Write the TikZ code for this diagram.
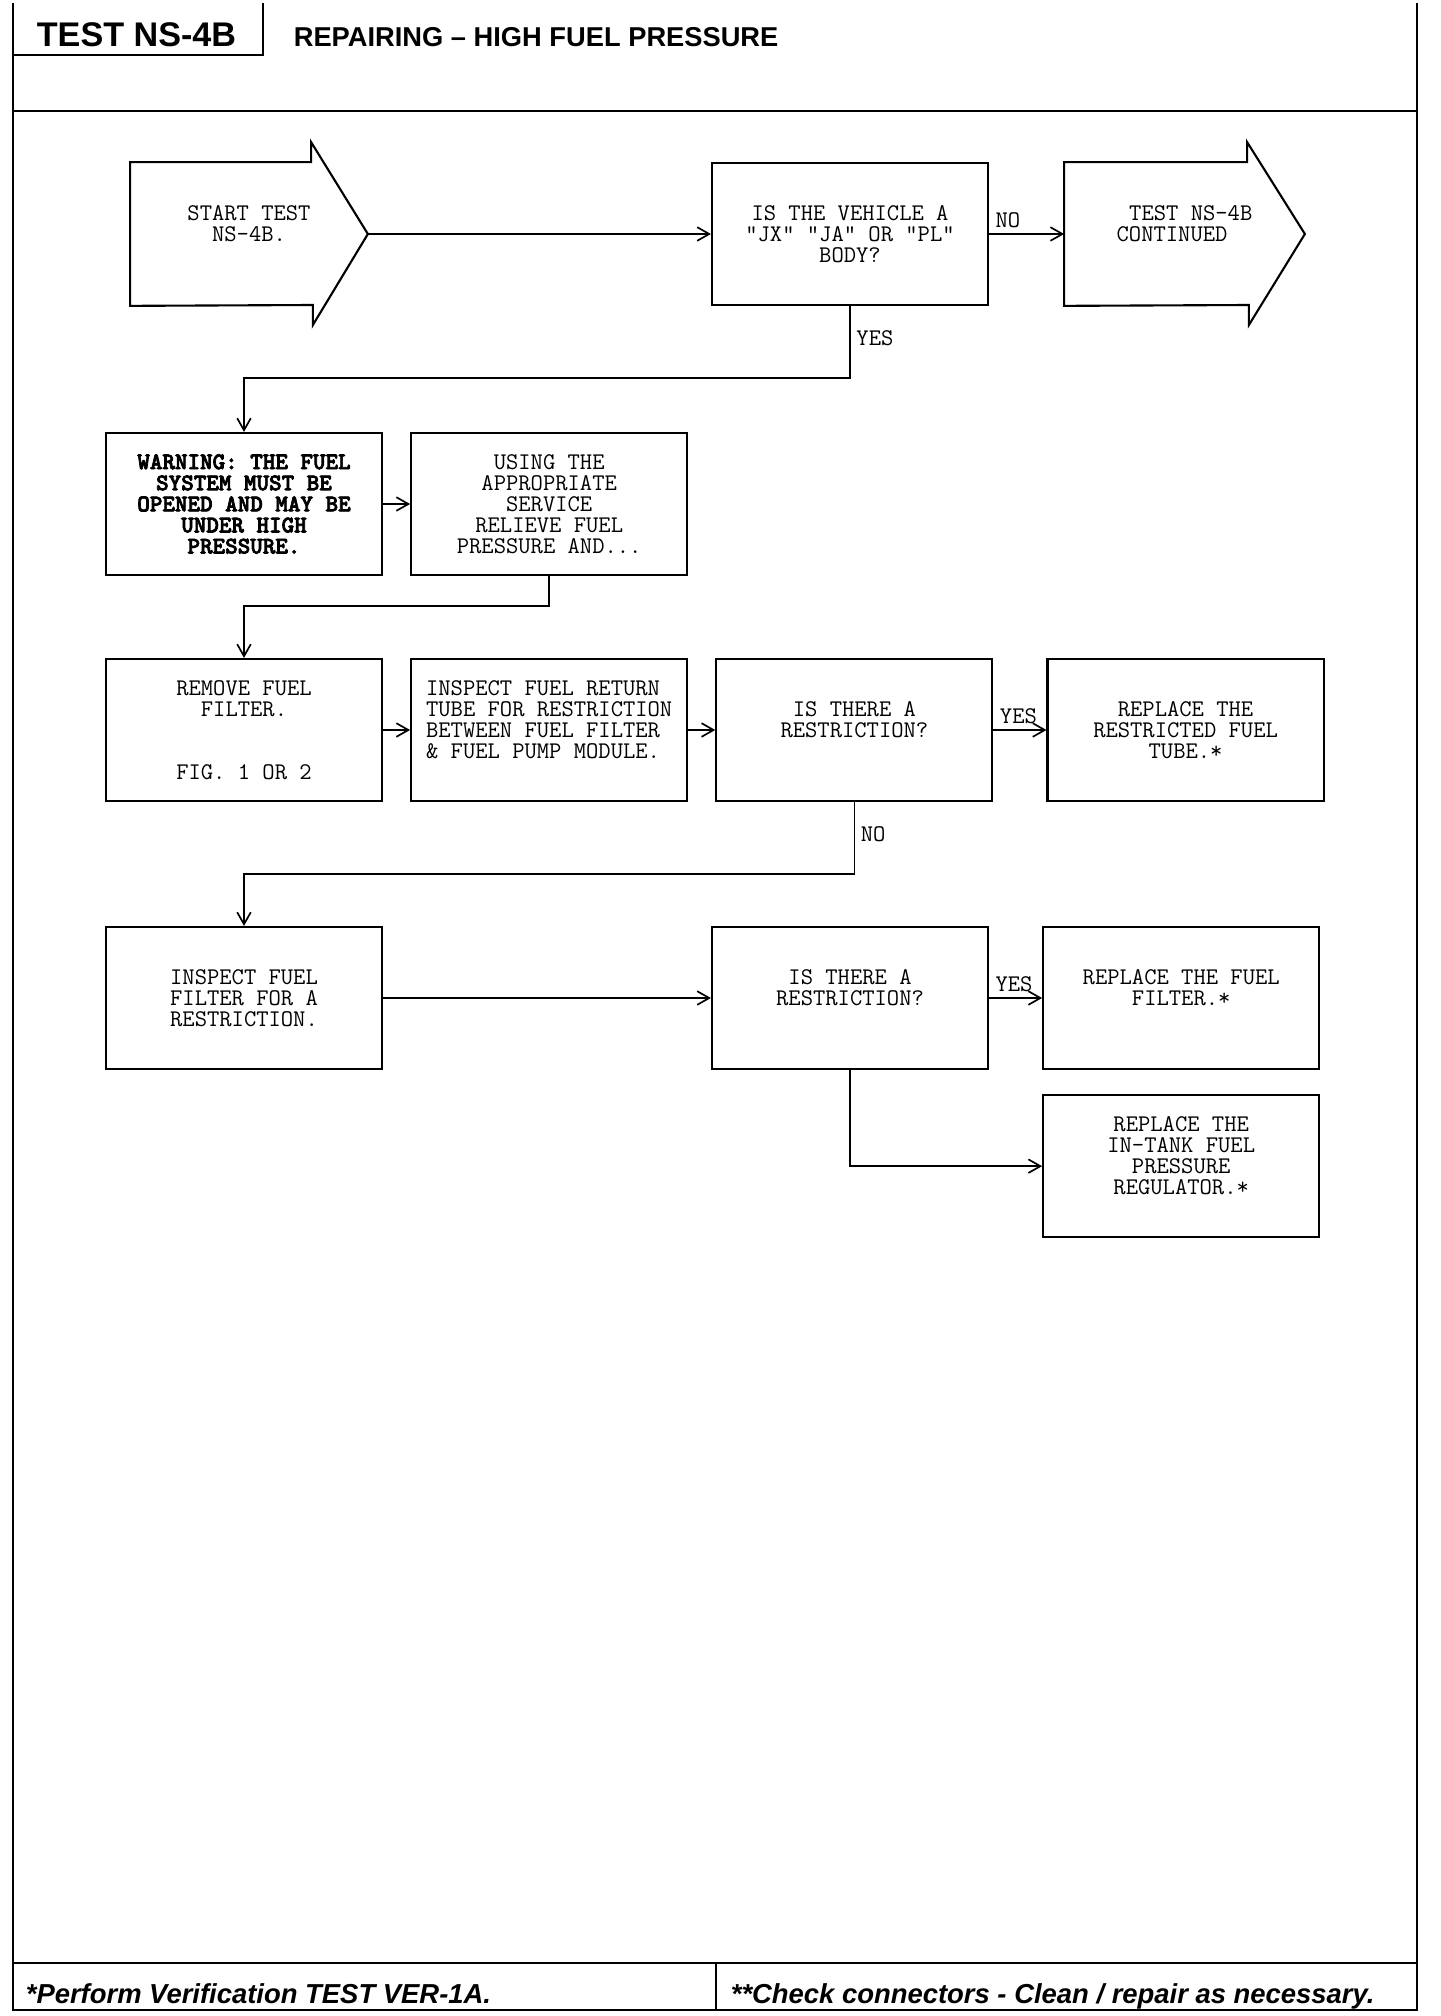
\documentclass[tikz,border=0pt]{standalone}
\usepackage{fontspec}
\setmainfont{Liberation Sans}
\newfontfamily\warnfont{lmmonolt10-bold.otf}[FakeBold=3]
\usetikzlibrary{arrows.meta,positioning}

\newcommand{\boxfont}{\ttfamily\fontsize{17}{15}\selectfont}

\begin{document}
\begin{tikzpicture}[x=0.025cm,y=-0.025cm,>={Straight Barb[length=0.3cm,width=0.34cm]},
    line width=1.2pt,node distance=0.675cm,
    stepbox/.style={draw,rectangle,line width=1.5pt,minimum width=6.9cm,minimum height=3.55cm,inner sep=2pt,align=center,font=\boxfont},
    arrowbox/.style={rectangle,minimum height=3.55cm,inner sep=0pt,align=center,font=\boxfont},
    lbl/.style={font=\boxfont,inner sep=4pt},
    frame/.style={line width=1.5pt}]

	\useasboundingbox (0,0) rectangle (1440,2016);

	% page frame
	\draw[frame] (13,3) -- (13,2010) -- (1417,2010) -- (1417,3);
	\draw[frame] (263,3) -- (263,55) -- (13,55);
	\draw[frame] (13,111) -- (1417,111);
	\draw[frame] (13,1963) -- (1417,1963);
	\draw[frame] (716,1963) -- (716,2010);

	\node[anchor=base west,inner sep=0pt,font=\bfseries\fontsize{24.3}{29}\selectfont] (title) at (36,47) {TEST NS-4B};
	\node[anchor=base west,inner sep=0pt,font=\bfseries\fontsize{19.4}{23}\selectfont] (subtitle) at (293,47) {REPAIRING \textendash{} HIGH FUEL PRESSURE};
	\node[anchor=base west,inner sep=0pt,font=\bfseries\itshape\fontsize{19.5}{23}\selectfont] (note1) at (25,2003) {*Perform Verification TEST VER-1A.};
	\node[anchor=base west,inner sep=0pt,font=\bfseries\itshape\fontsize{19.5}{23}\selectfont] (note2) at (730,2003) {**Check connectors - Clean / repair as necessary.};

	% start and continue arrows
	\node[arrowbox,minimum width=5.9cm] (start) at (249,234) {START TEST\\NS-4B.\\\mbox{}};
	\draw[line width=1.5pt] (start.north west) -- ++(181,0) -- ++(0,-20) -- (start.east) -- ++(-55,91) -- ++(0,-20) -- (start.south west) -- cycle;
	\node[stepbox] (q1) at (850,234) {IS THE VEHICLE A\\"JX" "JA" OR "PL"\\BODY?};
	\node[arrowbox,minimum width=5.975cm,align=left] (cont) at (1184.5,234) {\hspace*{0.525em}TEST NS-4B\\CONTINUED\\\mbox{}};
	\draw[line width=1.5pt] (cont.north west) -- ++(183,0) -- ++(0,-20) -- (cont.east) -- ++(-56,91) -- ++(0,-20) -- (cont.south west) -- cycle;

	% warning row
	\node[stepbox,font=\warnfont\fontsize{17}{15}\selectfont] (warn) at (244,504) {WARNING: THE FUEL\\SYSTEM MUST BE\\OPENED AND MAY BE\\UNDER HIGH\\PRESSURE.};
	\node[stepbox,right=of warn] (relieve) {USING THE\\APPROPRIATE\\SERVICE\\RELIEVE FUEL\\PRESSURE AND...};

	% fuel tube row
	\node[stepbox] (remove) at (244,730) {REMOVE FUEL\\FILTER.\\\mbox{}\\\mbox{}\\FIG. 1 OR 2};
	\node[stepbox,right=of remove,align=left] (tube) {INSPECT FUEL RETURN\\TUBE FOR RESTRICTION\\BETWEEN FUEL FILTER\\\& FUEL PUMP MODULE.\\\mbox{}};
	\node[stepbox,right=of tube] (restr1) {IS THERE A\\RESTRICTION?\\\mbox{}};
	\node[stepbox,right=1.325cm of restr1] (newtube) {REPLACE THE\\RESTRICTED FUEL\\TUBE.*};

	% fuel filter row
	\node[stepbox] (filter) at (244,998) {INSPECT FUEL\\FILTER FOR A\\RESTRICTION.};
	\node[stepbox] (restr2) at (850,998) {IS THERE A\\RESTRICTION?\\\mbox{}};
	\node[stepbox,right=1.325cm of restr2] (newfilter) {REPLACE THE FUEL\\FILTER.*\\\mbox{}};
	\node[stepbox,below=0.6cm of newfilter] (regulator) {REPLACE THE\\IN-TANK FUEL\\PRESSURE\\REGULATOR.*\\\mbox{}};

	\draw[->] (start.east) -- (q1);
	\draw[->] (q1) -- node[lbl,pos=0,above right] (no1) {NO} (cont);
	\draw[->] (q1.south) -- node[lbl,pos=0.45,right] (yes1) {YES} ++(0,72) -| (warn.north);
	\draw[->] (warn) -- (relieve);
	\draw[->] (relieve.south) -- ++(0,30) -| (remove.north);
	\draw[->] (remove) -- (tube);
	\draw[->] (tube) -- (restr1);
	\draw[->] (restr1) -- node[lbl,pos=0,above right] (yes2) {YES} (newtube);
	\draw[->] (restr1.south) -- node[lbl,pos=0.45,right] (no2) {NO} ++(0,72) -| (filter.north);
	\draw[->] (filter) -- (restr2);
	\draw[->] (restr2) -- node[lbl,pos=0,above right] (yes3) {YES} (newfilter);
	\draw[->] (restr2.south) |- (regulator.west);

\end{tikzpicture}
\end{document}
